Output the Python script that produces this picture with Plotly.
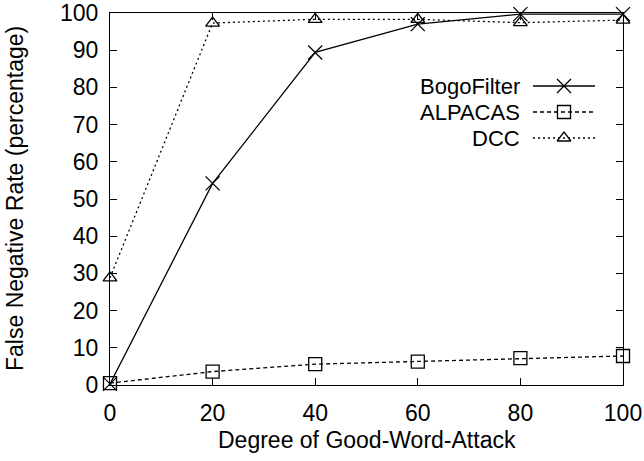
import plotly.graph_objects as go

# Degree of good-word attack (x) and false negative rates (%) per filter
degree = [0, 20, 40, 60, 80, 100]
bogofilter = [0.3, 54.2, 89.4, 97.0, 99.7, 99.7]
alpacas = [0.5, 3.6, 5.6, 6.3, 7.2, 7.8]
dcc = [28.8, 97.3, 98.3, 98.3, 97.4, 98.1]

series_names = ["BogoFilter", "ALPACAS", "DCC"]
series_values = [bogofilter, alpacas, dcc]
x_ticks = [0, 20, 40, 60, 80, 100]
y_ticks = [0, 10, 20, 30, 40, 50, 60, 70, 80, 90, 100]

W, H = 644, 461
L, R, T, B = 110, 21, 13, 76
FONT = "Liberation Sans, Arial, Helvetica, sans-serif"
FS = 23
KEY_FS = 22

styles = [
    dict(symbol="x-thin-open", size=14, dash="solid"),
    dict(symbol="square-open", size=13, dash="4px,3px"),
    dict(symbol="triangle-up-open", size=12, dash="2px,3px"),
]

fig = go.Figure()
for name, vals, st in zip(series_names, series_values, styles):
    fig.add_trace(go.Scatter(
        x=degree, y=vals, name=name, mode="lines+markers",
        line=dict(color="black", width=1.3, dash=st["dash"]),
        marker=dict(symbol=st["symbol"], size=st["size"], color="black",
                    line=dict(color="black", width=1.3)),
        cliponaxis=False, showlegend=False,
    ))

# Key in the upper right: label text then a line sample with its marker
plot_w = W - L - R
plot_h = H - T - B
key_x0, key_x1 = 533, 595
key_rows = [86, 112, 138]
key_text_right = 521
annotations = []
for name, st, py in zip(series_names, styles, key_rows):
    x_start = (key_x0 - L) / plot_w * 100
    x_end = (key_x1 - L) / plot_w * 100
    x_mid = ((key_x0 + key_x1) / 2 - L) / plot_w * 100
    yv = (H - B - py) / plot_h * 100
    fig.add_trace(go.Scatter(
        x=[x_start, x_end], y=[yv, yv], mode="lines",
        line=dict(color="black", width=1.3, dash=st["dash"]),
        showlegend=False, hoverinfo="skip",
    ))
    fig.add_trace(go.Scatter(
        x=[x_mid], y=[yv], mode="markers",
        marker=dict(symbol=st["symbol"], size=st["size"], color="black",
                    line=dict(color="black", width=1.3)),
        showlegend=False, hoverinfo="skip",
    ))
    annotations.append(dict(
        text=name, xref="paper", yref="paper",
        x=(key_text_right - L) / plot_w, y=(H - B - py) / plot_h,
        xanchor="right", yanchor="middle", showarrow=False, borderpad=0,
        font=dict(family=FONT, size=KEY_FS, color="black"),
    ))

# Axis titles
annotations.append(dict(
    text="Degree of Good-Word-Attack", xref="paper", yref="paper",
    x=0.5, y=(H - B - 440) / plot_h, xanchor="center", yanchor="middle",
    showarrow=False, font=dict(family=FONT, size=FS, color="black"),
))
annotations.append(dict(
    text="False Negative Rate (percentage)", xref="paper", yref="paper",
    x=(15 - L) / plot_w, y=0.5, xanchor="center", yanchor="middle",
    textangle=-90, showarrow=False, font=dict(family=FONT, size=FS, color="black"),
))

axis_common = dict(
    showgrid=False, zeroline=False, showline=True, linecolor="black",
    linewidth=1.3, mirror="allticks", ticks="inside", ticklen=7,
    tickwidth=1.2, tickcolor="black", automargin=False,
    tickfont=dict(family=FONT, size=FS, color="black"),
)

fig.update_layout(
    width=W, height=H,
    margin=dict(l=L, r=R, t=T, b=B),
    paper_bgcolor="white", plot_bgcolor="white",
    xaxis=dict(range=[0, 100], tickvals=x_ticks, ticklabelstandoff=7, **axis_common),
    yaxis=dict(range=[0, 100], tickvals=y_ticks, ticklabelstandoff=6, **axis_common),
    annotations=annotations,
    showlegend=False,
)

fig.write_html("out.html")
